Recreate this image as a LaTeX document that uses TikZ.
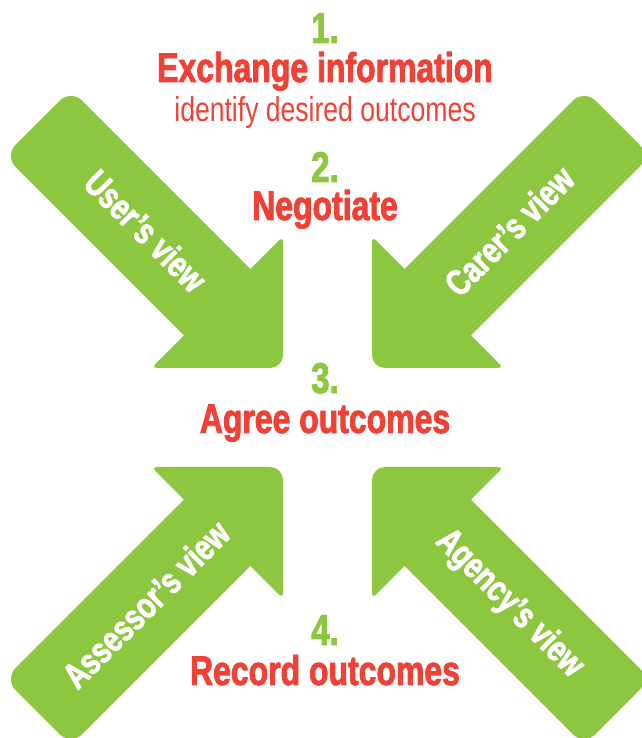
\documentclass[tikz,border=0pt]{standalone}
\usepackage{fontspec}
\setmainfont{Liberation Sans}[FakeStretch=0.77, BoldFeatures={FakeBold=2}]
\usetikzlibrary{positioning,calc}
\usepackage{xcolor}
\definecolor{viewgreen}{RGB}{141,198,63}
\definecolor{stepred}{RGB}{239,65,54}

\begin{document}
\begin{tikzpicture}[x=1pt, y=1pt,
    viewarrow/.pic={
        \fill[viewgreen] (-347,0) [rounded corners=16pt] -- (-347,47) -- (-220,47)
            [sharp corners] -- (-93,47) -- (-93,70)
            [rounded corners=5pt] -- (-93,93) -- (-46.5,46.5)
            [rounded corners=13pt] -- (0,0) -- (-46.5,-46.5)
            [rounded corners=5pt] -- (-93,-93) -- (-93,-70)
            [sharp corners] -- (-93,-47) -- (-220,-47)
            [rounded corners=16pt] -- (-347,-47) -- cycle;
        \coordinate (-mid) at (-194,0);
    },
    viewlabel/.style={text=white, font=\bfseries\fontsize{36.5}{40}\selectfont, inner sep=0pt},
    stepnum/.style={text=viewgreen, font=\bfseries\fontsize{43}{48}\selectfont, anchor=base, inner sep=0pt},
    steptitle/.style={text=stepred, font=\bfseries\fontsize{41.5}{48}\selectfont, anchor=base, inner sep=0pt},
    stepnote/.style={text=stepred, font=\fontsize{34.5}{40}\selectfont, anchor=base, inner sep=0pt}]

    \useasboundingbox (0,0) rectangle (641,738);

    \pic[rotate=-45] (user) at (283,370) {viewarrow};
    \pic[rotate=-135] (carer) at (372,370) {viewarrow};
    \pic[rotate=45] (assessor) at (283,271) {viewarrow};
    \pic[rotate=135] (agency) at (372,271) {viewarrow};

    \node[viewlabel, rotate=-45] (userview) at (user-mid) {User's view};
    \node[viewlabel, rotate=45] (carerview) at (carer-mid) {Carer's view};
    \node[viewlabel, rotate=45] (assessorview) at (assessor-mid) {Assessor's view};
    \node[viewlabel, rotate=-45] (agencyview) at (agency-mid) {Agency's view};

    \node[stepnum] (num1) at (325,695) {1.};
    \node[steptitle] (exchange) at ([yshift=-39pt]num1.base) {Exchange information};
    \node[stepnote] (identify) at ([yshift=-40pt]exchange.base) {identify desired outcomes};

    \node[stepnum] (num2) at (325,556) {2.};
    \node[steptitle] (negotiate) at ([yshift=-38pt]num2.base) {Negotiate};

    \node[stepnum] (num3) at (325,345) {3.};
    \node[steptitle] (agree) at ([yshift=-40pt]num3.base) {Agree outcomes};

    \node[stepnum] (num4) at (325,93) {4.};
    \node[steptitle] (record) at ([yshift=-40pt]num4.base) {Record outcomes};
\end{tikzpicture}
\end{document}
